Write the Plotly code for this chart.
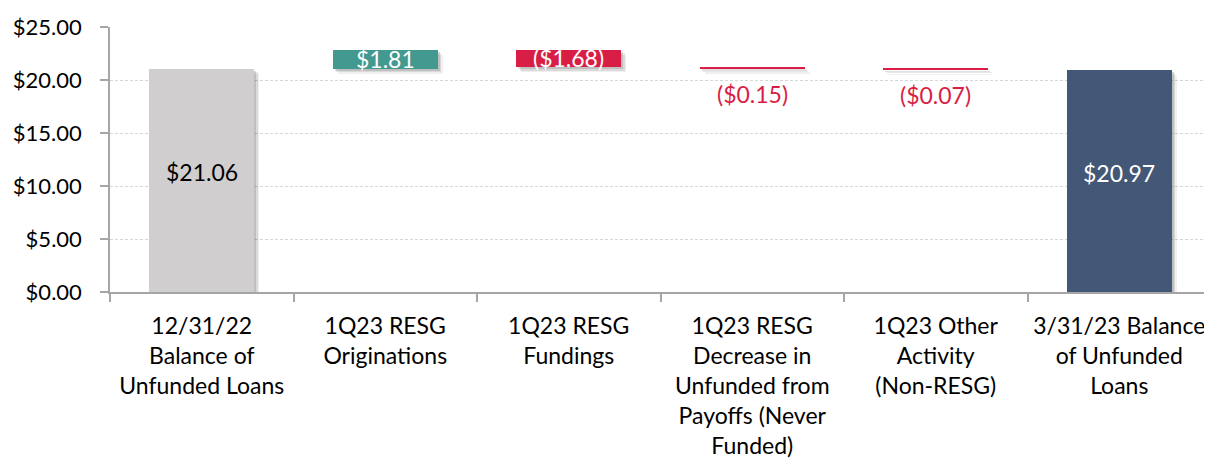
import plotly.graph_objects as go

categories = [
    "12/31/22<br>Balance of<br>Unfunded Loans",
    "1Q23 RESG<br>Originations",
    "1Q23 RESG<br>Fundings",
    "1Q23 RESG<br>Decrease in<br>Unfunded from<br>Payoffs (Never<br>Funded)",
    "1Q23 Other<br>Activity<br>(Non-RESG)",
    "3/31/23 Balance<br>of Unfunded<br>Loans",
]
start_value = 21.06
changes = [1.81, -1.68, -0.15, -0.07]
end_value = 20.97
y_ticks = [0, 5, 10, 15, 20, 25]

GRAY = "#D0CECE"
TEAL = "#42998F"
RED = "#D81E44"
NAVY = "#435876"
FONT = "Lato"
FS_Y = 22
FS_BAR = 23
FS_CAT = 23

# build waterfall bases / heights
bases, heights, colors = [0], [start_value], [GRAY]
level = start_value
for c in changes:
    if c >= 0:
        bases.append(level)
        heights.append(c)
        colors.append(TEAL)
    else:
        bases.append(level + c)
        heights.append(-c)
        colors.append(RED)
    level += c
bases.append(0)
heights.append(end_value)
colors.append(NAVY)

values = [start_value] + changes + [end_value]


def fmt(v):
    return f"${v:.2f}" if v >= 0 else f"(${-v:.2f})"


bar_w = 0.57
cat_px = 183.5
unit_px = 265 / 25.0

fig = go.Figure()

# soft drop shadows
for dx, dy, op in [(5, 5, 0.06), (3.5, 3.5, 0.09), (2, 2, 0.12)]:
    fig.add_trace(go.Bar(
        x=categories, y=heights, base=[b - dy / unit_px for b in bases],
        width=bar_w, offset=-bar_w / 2 + dx / cat_px,
        marker=dict(color=f"rgba(0,0,0,{op})", line=dict(width=0)),
        hoverinfo="skip", showlegend=False,
    ))

fig.add_trace(go.Bar(
    x=categories, y=heights, base=bases, width=bar_w,
    marker=dict(color=colors, line=dict(width=0)),
    showlegend=False,
))

annotations = []
last = len(values) - 1
for i, v in enumerate(values):
    mid = bases[i] + heights[i] / 2
    if i == 0 or i == last:
        annotations.append(dict(x=categories[i], y=mid, text=fmt(v), showarrow=False,
                                yshift=8,
                                font=dict(color="#000000" if i == 0 else "#FFFFFF",
                                          size=FS_BAR, family=FONT)))
    elif heights[i] > 1:
        annotations.append(dict(x=categories[i], y=mid, text=fmt(v), showarrow=False,
                                font=dict(color="#FFFFFF", size=FS_BAR, family=FONT)))
    else:
        annotations.append(dict(x=categories[i], y=bases[i], text=fmt(v), showarrow=False,
                                yanchor="top", yshift=-9,
                                font=dict(color=RED, size=FS_BAR, family=FONT)))

# page body has an 8px default margin; size the figure to compensate
fig.update_layout(
    width=1204, height=458,
    margin=dict(l=102, r=1, t=19, b=174, autoexpand=False),
    paper_bgcolor="white", plot_bgcolor="white",
    barmode="overlay",
    bargap=0,
    font=dict(family=FONT, size=FS_Y, color="#000000"),
    annotations=annotations,
    xaxis=dict(
        type="category",
        categoryorder="array", categoryarray=categories,
        range=[-0.5, len(categories) - 0.5],
        showline=True, linecolor="#A6A6A6", linewidth=1.5,
        ticks="outside", tickson="boundaries", ticklen=8, tickcolor="#A6A6A6",
        tickwidth=1.5, showgrid=False, zeroline=False,
        tickfont=dict(family=FONT, size=FS_CAT, color="#000000"),
        tickangle=0, automargin=False, ticklabelstandoff=13,
    ),
    yaxis=dict(
        range=[0, 25], tickvals=y_ticks,
        ticktext=[f"${t:.2f}" for t in y_ticks],
        showline=True, linecolor="#A6A6A6", linewidth=1.5,
        ticks="outside", ticklen=8, tickcolor="#A6A6A6", tickwidth=1.5,
        showgrid=True, gridcolor="#D6D6D6", griddash="3px,2px", gridwidth=1,
        zeroline=False, automargin=False,
        tickfont=dict(family=FONT, size=FS_Y, color="#000000"),
        ticklabelstandoff=14,
    ),
)

fig.write_html("out.html")
